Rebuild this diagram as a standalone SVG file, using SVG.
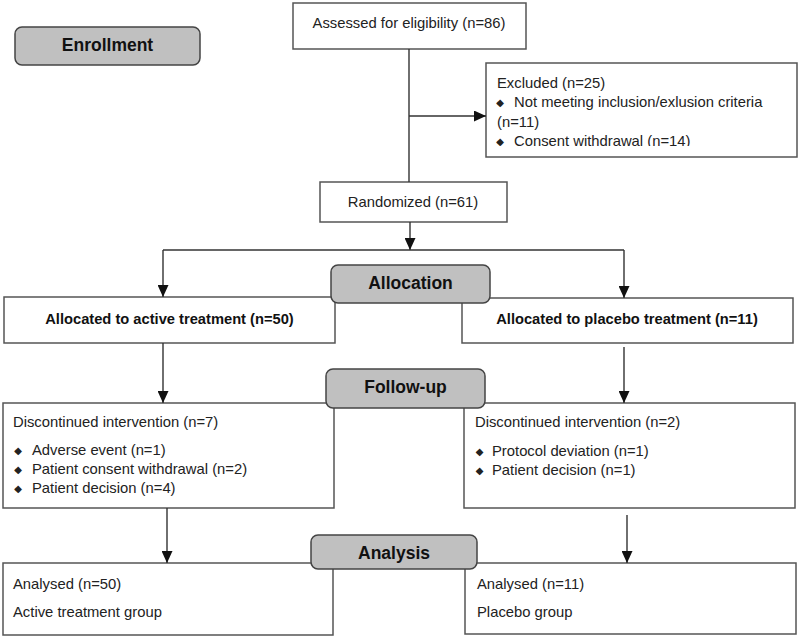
<svg xmlns="http://www.w3.org/2000/svg" width="800" height="636" viewBox="0 0 800 636">
<style>
.box{fill:#fff;stroke:#555;stroke-width:1.5}
.stage{fill:#c0c0c0;stroke:#444;stroke-width:1.5}
.t{font-family:"Liberation Sans",Arial,sans-serif;font-size:14.8px;fill:#222}
.b{font-family:"Liberation Sans",Arial,sans-serif;font-size:14.7px;font-weight:bold;fill:#111}
.h{font-family:"Liberation Sans",Arial,sans-serif;font-size:17.5px;font-weight:bold;fill:#111}
.bul{font-family:"DejaVu Sans",sans-serif;font-size:10px;fill:#222}
.ln{fill:none;stroke:#333;stroke-width:1.4}
</style>
<defs>
<marker id="arr" markerUnits="userSpaceOnUse" markerWidth="12" markerHeight="11" refX="12" refY="5.5" orient="auto">
<path d="M0,0 L12,5.5 L0,11 z" fill="#111"/>
</marker>
<clipPath id="exclip"><rect x="486" y="63" width="311" height="83"/></clipPath>
</defs>

<g id="enrollment">
<rect class="stage" x="15" y="27" width="185" height="38" rx="7"/>
<text class="h" x="107.5" y="51" text-anchor="middle">Enrollment</text>
</g>

<g id="assessed">
<rect class="box" x="293" y="3" width="233" height="46"/>
<text class="t" x="409" y="28" text-anchor="middle">Assessed for eligibility (n=86)</text>
</g>

<g id="excluded">
<rect class="box" x="486" y="63" width="311" height="94"/>
<g clip-path="url(#exclip)">
<text class="t" x="497" y="88">Excluded (n=25)</text>
<text class="bul" x="500" y="106" text-anchor="middle">◆</text>
<text class="t" x="514" y="107">Not meeting inclusion/exlusion criteria</text>
<text class="t" x="497" y="127">(n=11)</text>
<text class="bul" x="500" y="145" text-anchor="middle">◆</text>
<text class="t" x="514" y="146">Consent withdrawal (n=14)</text>
</g>
</g>

<g id="randomized">
<rect class="box" x="320" y="182" width="187" height="40"/>
<text class="t" x="413" y="207" text-anchor="middle">Randomized (n=61)</text>
</g>

<g id="alloc-active">
<rect class="box" x="4" y="297" width="331" height="46"/>
<text class="b" x="169.5" y="324" text-anchor="middle">Allocated to active treatment (n=50)</text>
</g>

<g id="alloc-placebo">
<rect class="box" x="462" y="298" width="331" height="45"/>
<text class="b" x="627" y="324" text-anchor="middle">Allocated to placebo treatment (n=11)</text>
</g>

<g id="allocation">
<rect class="stage" x="331" y="265" width="159" height="38" rx="7"/>
<text class="h" x="410.5" y="289" text-anchor="middle">Allocation</text>
</g>

<g id="disc-active">
<rect class="box" x="3" y="403" width="331" height="105"/>
<text class="t" x="13" y="427">Discontinued intervention (n=7)</text>
<text class="bul" x="18" y="454" text-anchor="middle">◆</text>
<text class="t" x="32" y="455">Adverse event (n=1)</text>
<text class="bul" x="18" y="473" text-anchor="middle">◆</text>
<text class="t" x="32" y="474">Patient consent withdrawal (n=2)</text>
<text class="bul" x="18" y="492" text-anchor="middle">◆</text>
<text class="t" x="32" y="493">Patient decision (n=4)</text>
</g>

<g id="disc-placebo">
<rect class="box" x="464" y="403" width="331" height="105"/>
<text class="t" x="475" y="427">Discontinued intervention (n=2)</text>
<text class="bul" x="479.5" y="455" text-anchor="middle">◆</text>
<text class="t" x="492" y="456">Protocol deviation (n=1)</text>
<text class="bul" x="479.5" y="474" text-anchor="middle">◆</text>
<text class="t" x="492" y="475">Patient decision (n=1)</text>
</g>

<g id="followup">
<rect class="stage" x="326" y="369" width="159" height="39" rx="7"/>
<text class="h" x="405.5" y="393" text-anchor="middle">Follow-up</text>
</g>

<g id="analysed-active">
<rect class="box" x="3" y="563" width="330" height="72"/>
<text class="t" x="13" y="589">Analysed (n=50)</text>
<text class="t" x="13" y="617">Active treatment group</text>
</g>

<g id="analysed-placebo">
<rect class="box" x="465" y="563" width="331" height="71"/>
<text class="t" x="477" y="589">Analysed (n=11)</text>
<text class="t" x="477" y="617">Placebo group</text>
</g>

<g id="analysis">
<rect class="stage" x="311" y="535" width="166" height="34" rx="7"/>
<text class="h" x="394" y="559" text-anchor="middle">Analysis</text>
</g>

<g id="connectors">
<path class="ln" d="M409,49 V182"/>
<path class="ln" d="M409,116 H486" marker-end="url(#arr)"/>
<path class="ln" d="M410,222 V250" marker-end="url(#arr)"/>
<path class="ln" d="M163,250 H624"/>
<path class="ln" d="M163,250 V297" marker-end="url(#arr)"/>
<path class="ln" d="M624,250 V298" marker-end="url(#arr)"/>
<path class="ln" d="M163,343 V403" marker-end="url(#arr)"/>
<path class="ln" d="M624,347 V403" marker-end="url(#arr)"/>
<path class="ln" d="M167,508 V563" marker-end="url(#arr)"/>
<path class="ln" d="M627,515 V563" marker-end="url(#arr)"/>
</g>
</svg>
